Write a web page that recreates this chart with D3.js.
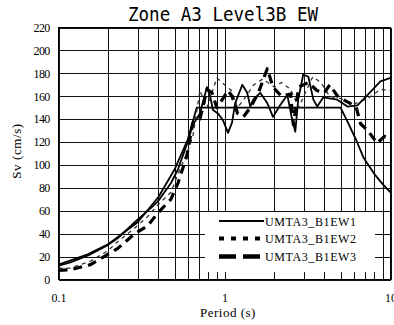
<!DOCTYPE html>
<html>
<head>
<meta charset="utf-8">
<script src="https://cdn.jsdelivr.net/npm/d3@7"></script>
<style>
  html, body { margin: 0; padding: 0; background: #fff; }
  svg { display: block; }
  .serif { font-family: "Liberation Serif", "DejaVu Serif", "Times New Roman", serif; }
  .mono { font-family: "DejaVu Sans Mono", "Liberation Mono", monospace; }
</style>
</head>
<body>
<svg id="chart" width="394" height="325"></svg>
<script>
// Response spectra, Zone A3 Level3B EW (period in s, Sv in cm/s)
const titleText = "Zone A3 Level3B EW";
const seriesNames = ["UMTA3_B1EW1", "UMTA3_B1EW2", "UMTA3_B1EW3"];
const xTickLabels = ["0.1", "1", "10"];
const yTickValues = [0, 20, 40, 60, 80, 100, 120, 140, 160, 180, 200, 220];

// design spectrum (rising ramp, constant-velocity plateau, decay)
const designT = [0.1, 0.15, 0.2, 0.3, 0.4, 0.5, 0.6, 0.68, 5.0, 5.5, 6.2, 6.9, 8.0, 9.0, 10];
const designV = [13, 22, 31, 50, 72, 96, 122, 150, 150, 138, 122, 106, 92, 83, 76];

const ew1T = [0.1, 0.118, 0.156, 0.198, 0.227, 0.288, 0.345, 0.396, 0.475, 0.524, 0.593, 0.645, 0.711, 0.784, 0.82, 0.852, 0.914, 0.979, 1.05, 1.11, 1.16, 1.28, 1.37, 1.43, 1.49, 1.64, 1.81, 1.96, 2.16, 2.39, 2.56, 2.67, 2.78, 2.98, 3.2, 3.43, 3.62, 3.94, 4.78, 5.5, 6.32, 7.26, 8.7, 10];
const ew1V = [12, 15, 22, 30, 36, 50, 60, 68, 84, 96, 118, 135, 145, 168, 160, 148, 145, 139, 128, 137, 154, 170, 163, 151, 157, 163, 154, 142, 152, 161, 139, 129, 157, 179, 177, 157, 151, 159, 157, 151, 152, 161, 173, 176];

const ew2T = [0.1, 0.118, 0.156, 0.198, 0.227, 0.288, 0.345, 0.396, 0.475, 0.524, 0.593, 0.645, 0.711, 0.784, 0.9, 1.0, 1.1, 1.2, 1.35, 1.5, 1.7, 2.0, 2.2, 2.5, 2.8, 3.0, 3.4, 3.8, 4.3, 5.0, 6.0, 7.3, 8.7, 10];
const ew2V = [10, 10, 16, 25, 33, 45, 55, 65, 76, 92, 110, 125, 165, 150, 176, 170, 165, 150, 160, 170, 175, 168, 172, 166, 150, 160, 177, 172, 160, 158, 153, 158, 166, 165];

const ew3T = [0.1, 0.118, 0.156, 0.198, 0.227, 0.288, 0.345, 0.396, 0.475, 0.524, 0.593, 0.645, 0.711, 0.784, 0.84, 0.9, 0.979, 1.05, 1.11, 1.2, 1.3, 1.43, 1.6, 1.81, 1.96, 2.2, 2.5, 2.6, 2.8, 3.2, 3.6, 4.0, 4.3, 4.8, 5.5, 6.2, 6.6, 7.3, 8.3, 9.2, 10];
const ew3V = [8, 8.5, 13, 22, 27, 40, 47, 58, 70, 84, 108, 137, 140, 166, 163, 150, 158, 165, 160, 145, 142, 150, 163, 184, 168, 160, 162, 135, 168, 172, 165, 163, 170, 160, 155, 151, 136, 130, 119, 125, 124];

const svg = d3.select("#chart");
const plotLeft = 58.5, plotRight = 390.5, plotTop = 27.5, plotBottom = 279.5;

const x = d3.scaleLog().domain([0.1, 10]).range([plotLeft, plotRight]);
const y = d3.scaleLinear().domain([0, 220]).range([plotBottom, plotTop]);

// grid + axes
const xGridValues = d3.range(1, 10).map(d => d / 10).concat(d3.range(1, 11));
const xAxis = d3.axisBottom(x)
  .tickValues(xGridValues)
  .tickSize(-(plotBottom - plotTop))
  .tickPadding(14)
  .tickFormat(d => {
    const s = String(+d.toFixed(1));
    return xTickLabels.includes(s) ? s : "";
  });
const gx = svg.append("g").attr("transform", `translate(0,${plotBottom})`).call(xAxis);
gx.attr("font-family", null);
gx.select(".domain").remove();
gx.selectAll(".tick line").attr("stroke", "#111").attr("shape-rendering", "crispEdges");
gx.selectAll(".tick text").attr("class", "serif").style("font-size", "12px").attr("fill", "#000");

const yAxis = d3.axisLeft(y)
  .tickValues(yTickValues)
  .tickSize(-(plotRight - plotLeft))
  .tickPadding(9)
  .tickFormat(d3.format("d"));
const gy = svg.append("g").attr("transform", `translate(${plotLeft},0)`).call(yAxis);
gy.attr("font-family", null);
gy.select(".domain").remove();
gy.selectAll(".tick line").attr("stroke", "#111").attr("shape-rendering", "crispEdges");
gy.selectAll(".tick text").attr("class", "serif").style("font-size", "12px").attr("fill", "#000")
  .style("letter-spacing", "-0.7px");

// frame
svg.append("rect")
  .attr("x", plotLeft).attr("y", plotTop)
  .attr("width", plotRight - plotLeft).attr("height", plotBottom - plotTop)
  .attr("fill", "none").attr("stroke", "#000").attr("stroke-width", 1.2)
  .attr("shape-rendering", "crispEdges");

// series
const line = d3.line().x(d => x(d[0])).y(d => y(d[1]));
const zip = (a, b) => a.map((t, i) => [t, b[i]]);

const styles = [
  { width: 1.8, dash: null, color: "#000" },
  { width: 1.3, dash: "4,4", color: "#333" },
  { width: 3.2, dash: "9,6", color: "#000" }
];

svg.append("path").datum(zip(designT, designV))
  .attr("d", line).attr("fill", "none")
  .attr("stroke", "#000").attr("stroke-width", 1.8).attr("stroke-linejoin", "round");

[[ew2T, ew2V, 1], [ew3T, ew3V, 2], [ew1T, ew1V, 0]].forEach(s => {
  const st = styles[s[2]];
  svg.append("path").datum(zip(s[0], s[1]))
    .attr("d", line).attr("fill", "none")
    .attr("stroke", st.color).attr("stroke-width", st.width)
    .attr("stroke-dasharray", st.dash)
    .attr("stroke-linejoin", "round");
});

// legend
const lg = svg.append("g");
lg.append("rect").attr("x", 205).attr("y", 212).attr("width", 170).attr("height", 60).attr("fill", "#fff");
const legendStyles = [
  { width: 2, dash: null },
  { width: 4, dash: "5,7" },
  { width: 4.5, dash: "17,7" }
];
const rowY = [221, 238.5, 256.5];
seriesNames.forEach((name, i) => {
  lg.append("line")
    .attr("x1", 219).attr("x2", 264).attr("y1", rowY[i]).attr("y2", rowY[i])
    .attr("stroke", "#000").attr("stroke-width", legendStyles[i].width)
    .attr("stroke-dasharray", legendStyles[i].dash);
  lg.append("text")
    .attr("class", "serif")
    .attr("x", 265).attr("y", rowY[i] + 4.5)
    .style("font-size", "12px").style("letter-spacing", "0.6px")
    .text(name);
});

// title
svg.append("text")
  .attr("class", "mono")
  .attr("x", 128).attr("y", 21)
  .attr("textLength", 190).attr("lengthAdjust", "spacingAndGlyphs")
  .style("font-size", "20px")
  .attr("fill", "#000")
  .text(titleText);

// axis titles
svg.append("text")
  .attr("class", "serif")
  .attr("x", 228).attr("y", 317)
  .attr("text-anchor", "middle")
  .style("font-size", "13px").style("letter-spacing", "0.5px")
  .text("Period (s)");

svg.append("text")
  .attr("class", "serif")
  .attr("transform", "translate(21,151) rotate(-90)")
  .attr("text-anchor", "middle")
  .style("font-size", "13px").style("letter-spacing", "0.6px")
  .text("Sv (cm/s)");
</script>
</body>
</html>
